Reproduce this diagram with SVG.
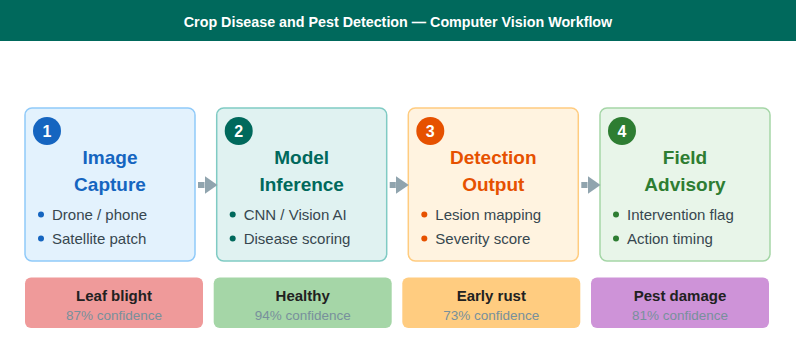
<svg xmlns="http://www.w3.org/2000/svg" width="796" height="350" viewBox="0 0 796 350">
  <defs>
    <marker id="ah" markerUnits="userSpaceOnUse" markerWidth="13" markerHeight="18" refX="0" refY="9" orient="auto">
      <path d="M0,0 L13,9 L0,18 Z" fill="#90A4AE"/>
    </marker>
  </defs>
  <style>
    .hdr { font-family: "Liberation Sans", Arial, sans-serif; font-weight: bold; font-size: 14.3px; fill: #FFFFFF; }
    .box { stroke-width: 1.5; }
    .ttl { font-family: "Liberation Sans", Arial, sans-serif; font-weight: bold; font-size: 19px; text-anchor: middle; }
    .num { font-family: "Liberation Sans", Arial, sans-serif; font-weight: bold; font-size: 16px; fill: #FFFFFF; text-anchor: middle; }
    .bul { font-family: "Liberation Sans", Arial, sans-serif; font-size: 15px; fill: #37474F; }
    .conn { stroke: #90A4AE; stroke-width: 6; fill: none; }
    .ctl { font-family: "Liberation Sans", Arial, sans-serif; font-weight: bold; font-size: 15px; fill: #212121; text-anchor: middle; }
    .csub { font-family: "Liberation Sans", Arial, sans-serif; font-size: 13.5px; fill: #78909C; text-anchor: middle; }
  </style>
  <rect x="0" y="0" width="796" height="350" fill="#FFFFFF"/>
  <g id="header">
    <rect x="0" y="0" width="796" height="41" fill="#00695C"/>
    <text class="hdr" x="398" y="26.5" text-anchor="middle">Crop Disease and Pest Detection — Computer Vision Workflow</text>
  </g>

  <g id="node1">
    <rect class="box" x="25" y="108" width="170" height="153" rx="7" fill="#E3F2FD" stroke="#90CAF9"/>
    <circle cx="47" cy="131" r="14" fill="#1565C0"/>
    <text class="num" x="47" y="137">1</text>
    <text class="ttl" x="110" y="164" fill="#1565C0">Image</text>
    <text class="ttl" x="110" y="191" fill="#1565C0">Capture</text>
    <circle cx="41" cy="214.5" r="3" fill="#1565C0"/>
    <text class="bul" x="52" y="219.5">Drone / phone</text>
    <circle cx="41" cy="238.5" r="3" fill="#1565C0"/>
    <text class="bul" x="52" y="243.5">Satellite patch</text>
  </g>

  <g id="node2">
    <rect class="box" x="216.7" y="108" width="170" height="153" rx="7" fill="#E0F2F1" stroke="#80CBC4"/>
    <circle cx="238.7" cy="131" r="14" fill="#00695C"/>
    <text class="num" x="238.7" y="137">2</text>
    <text class="ttl" x="301.7" y="164" fill="#00695C">Model</text>
    <text class="ttl" x="301.7" y="191" fill="#00695C">Inference</text>
    <circle cx="232.7" cy="214.5" r="3" fill="#00695C"/>
    <text class="bul" x="243.7" y="219.5">CNN / Vision AI</text>
    <circle cx="232.7" cy="238.5" r="3" fill="#00695C"/>
    <text class="bul" x="243.7" y="243.5">Disease scoring</text>
  </g>

  <g id="node3">
    <rect class="box" x="408.3" y="108" width="170" height="153" rx="7" fill="#FFF3E0" stroke="#FFCC80"/>
    <circle cx="430.3" cy="131" r="14" fill="#E65100"/>
    <text class="num" x="430.3" y="137">3</text>
    <text class="ttl" x="493.3" y="164" fill="#E65100">Detection</text>
    <text class="ttl" x="493.3" y="191" fill="#E65100">Output</text>
    <circle cx="424.3" cy="214.5" r="3" fill="#E65100"/>
    <text class="bul" x="435.3" y="219.5">Lesion mapping</text>
    <circle cx="424.3" cy="238.5" r="3" fill="#E65100"/>
    <text class="bul" x="435.3" y="243.5">Severity score</text>
  </g>

  <g id="node4">
    <rect class="box" x="600" y="108" width="170" height="153" rx="7" fill="#E8F5E9" stroke="#A5D6A7"/>
    <circle cx="622" cy="131" r="14" fill="#2E7D32"/>
    <text class="num" x="622" y="137">4</text>
    <text class="ttl" x="685" y="164" fill="#2E7D32">Field</text>
    <text class="ttl" x="685" y="191" fill="#2E7D32">Advisory</text>
    <circle cx="616" cy="214.5" r="3" fill="#2E7D32"/>
    <text class="bul" x="627" y="219.5">Intervention flag</text>
    <circle cx="616" cy="238.5" r="3" fill="#2E7D32"/>
    <text class="bul" x="627" y="243.5">Action timing</text>
  </g>

  <g id="connectors">
    <line class="conn" x1="198" y1="185" x2="204.5" y2="185" marker-end="url(#ah)"/>
    <line class="conn" x1="389.7" y1="185" x2="395.8" y2="185" marker-end="url(#ah)"/>
    <line class="conn" x1="581.3" y1="185" x2="587.5" y2="185" marker-end="url(#ah)"/>
  </g>

  <g id="card1">
    <rect x="25" y="277.5" width="178" height="50.5" rx="6" fill="#EF9A9A"/>
    <text class="ctl" x="114" y="301">Leaf blight</text>
    <text class="csub" x="114" y="319.5">87% confidence</text>
  </g>
  <g id="card2">
    <rect x="213.7" y="277.5" width="178" height="50.5" rx="6" fill="#A5D6A7"/>
    <text class="ctl" x="302.7" y="301">Healthy</text>
    <text class="csub" x="302.7" y="319.5">94% confidence</text>
  </g>
  <g id="card3">
    <rect x="402.3" y="277.5" width="178" height="50.5" rx="6" fill="#FFCC80"/>
    <text class="ctl" x="491.3" y="301">Early rust</text>
    <text class="csub" x="491.3" y="319.5">73% confidence</text>
  </g>
  <g id="card4">
    <rect x="591" y="277.5" width="178" height="50.5" rx="6" fill="#CE93D8"/>
    <text class="ctl" x="680" y="301">Pest damage</text>
    <text class="csub" x="680" y="319.5">81% confidence</text>
  </g>
</svg>
